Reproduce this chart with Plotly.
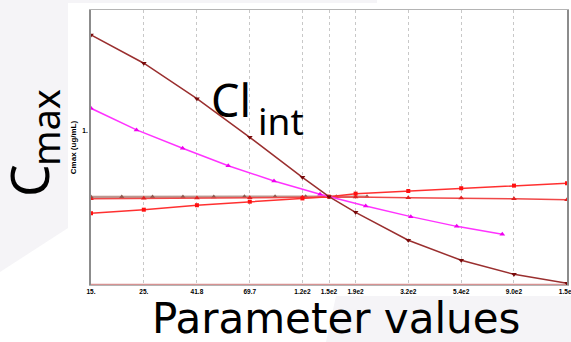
import plotly.graph_objects as go

W, H = 571, 342

# ---- data ----
tick_vals = [15, 25, 41.8, 69.7, 116, 150, 194, 323, 539, 898, 1500]
tick_text = ["15.", "25.", "41.8", "69.7", "1.2e2", "1.5e2", "1.9e2", "3.2e2", "5.4e2", "9.0e2", "1.5e3"]

x_grid = [15, 25, 41.8, 69.7, 116, 150, 194, 323, 539, 898, 1500]
clint_y = [1.620, 1.437, 1.207, 0.957, 0.698, 0.572, 0.471, 0.290, 0.160, 0.069, 0.011]
rising_y = [0.465, 0.488, 0.517, 0.540, 0.561, 0.572, 0.592, 0.609, 0.627, 0.644, 0.659]
flat_red_y = [0.559, 0.562, 0.564, 0.566, 0.568, 0.572, 0.570, 0.566, 0.564, 0.559, 0.553]
bottom_y = [0, 0, 0, 0, 0, 0, 0, 0, 0, 0, 0]

x_magenta = [15, 23.3, 36.4, 56.6, 88.1, 137.5, 214, 331, 516, 802]
magenta_y = [1.145, 1.005, 0.886, 0.773, 0.674, 0.588, 0.512, 0.443, 0.380, 0.329]

x_brown = [15, 20.2, 27.2, 36.5, 49.2, 66.2, 89.0, 119.7, 161, 216.7]
brown_y = [0.570, 0.570, 0.571, 0.571, 0.571, 0.572, 0.572, 0.572, 0.572, 0.572]

y_range = [0, 1.782]

fig = go.Figure()

fig.add_trace(go.Scatter(x=x_grid, y=bottom_y, mode="lines", cliponaxis=False,
                         line=dict(color="rgba(200,110,110,0.75)", width=2.5), showlegend=False))
fig.add_trace(go.Scatter(x=x_brown, y=brown_y, mode="lines+markers",
                         line=dict(color="rgba(150,95,85,0.65)", width=2.5),
                         marker=dict(symbol="triangle-up", size=5, color="#8b5a50"), showlegend=False))
fig.add_trace(go.Scatter(x=x_grid, y=flat_red_y, mode="lines+markers",
                         line=dict(color="#f04848", width=1.5),
                         marker=dict(symbol="triangle-up", size=5, color="#e02020"), showlegend=False))
fig.add_trace(go.Scatter(x=x_grid, y=rising_y, mode="lines+markers",
                         line=dict(color="#ff3030", width=1.5),
                         marker=dict(symbol="square", size=4, color="#ff1010"), showlegend=False))
fig.add_trace(go.Scatter(x=x_magenta, y=magenta_y, mode="lines+markers",
                         line=dict(color="#ff33ff", width=1.5),
                         marker=dict(symbol="triangle-up", size=5, color="#ee00ee"), showlegend=False))
fig.add_trace(go.Scatter(x=x_grid, y=clint_y, mode="lines+markers",
                         line=dict(color="#9a2f2f", width=1.5),
                         marker=dict(symbol="triangle-down", size=5, color="#780a0a"), showlegend=False))

gray = "#f5f4f7"
def px(x):
    return x / W
def py(y):
    return 1 - y / H

shapes = [
    dict(type="path", xref="paper", yref="paper", layer="below", line=dict(width=0), fillcolor=gray,
         path=f"M 0,{py(3)} L {px(68)},{py(3)} L {px(68)},{py(228)} L 0,{py(272)} Z"),
    dict(type="path", xref="paper", yref="paper", layer="below", line=dict(width=0), fillcolor=gray,
         path=f"M 0,1 L {px(377)},1 L {px(377)},{py(3)} L 0,{py(3)} Z"),
    dict(type="path", xref="paper", yref="paper", layer="below", line=dict(width=0), fillcolor=gray,
         path=f"M {px(336)},{py(296)} L 1,{py(296)} L 1,0 L {px(326)},0 Z"),
]

big = "Noto Sans"
annotations = [
    dict(text="C", x=px(28), y=py(181), xref="paper", yref="paper", showarrow=False, borderpad=0,
         textangle=-90, xanchor="center", yanchor="middle", font=dict(family=big, size=52, color="black")),
    dict(text="max", x=px(45), y=py(127), xref="paper", yref="paper", showarrow=False, borderpad=0,
         textangle=-90, xanchor="center", yanchor="middle", font=dict(family=big, size=38, color="black")),
    dict(text="Cl", x=px(209), y=py(117 - 0.388 * 45), xref="paper", yref="paper", showarrow=False,
         xanchor="left", yanchor="middle", font=dict(family=big, size=45, color="black")),
    dict(text="int", x=px(256), y=py(135 - 0.388 * 37), xref="paper", yref="paper", showarrow=False,
         xanchor="left", yanchor="middle", font=dict(family=big, size=37, color="black")),
    dict(text="Parameter values", x=px(336), y=py(333 - 0.346 * 42), xref="paper", yref="paper",
         showarrow=False, xanchor="center", yanchor="middle", borderpad=0,
         font=dict(family="DejaVu Sans", size=42, color="black")),
]

tickfont = dict(family="Liberation Sans", size=6.5, color="black", weight="bold")

fig.update_layout(
    width=W, height=H, margin=dict(l=0, r=0, t=0, b=0),
    paper_bgcolor="white", plot_bgcolor="white",
    shapes=shapes, annotations=annotations,
    xaxis=dict(type="log", domain=[91 / W, 567 / W], automargin=False,
               range=[1.17609, 3.17609], tickvals=tick_vals, ticktext=tick_text,
               ticklabeloverflow="allow",
               showgrid=True, gridcolor="#c8c8c8", griddash="dot", gridwidth=1,
               showline=True, linecolor="#b4b4b4", linewidth=1, mirror=True,
               ticks="", tickfont=tickfont, zeroline=False),
    yaxis=dict(domain=[1 - 285 / H, 1 - 10 / H], range=y_range, automargin=False,
               tickvals=[1], ticktext=["1."], showgrid=False, zeroline=False,
               showline=True, linecolor="#8c8c8c", linewidth=2, mirror=True,
               ticks="", tickfont=tickfont,
               title=dict(text="Cmax (ug/mL)", standoff=4,
                          font=dict(family="Liberation Sans", size=8, color="black", weight="bold"))),
)

fig.write_html("out.html")
